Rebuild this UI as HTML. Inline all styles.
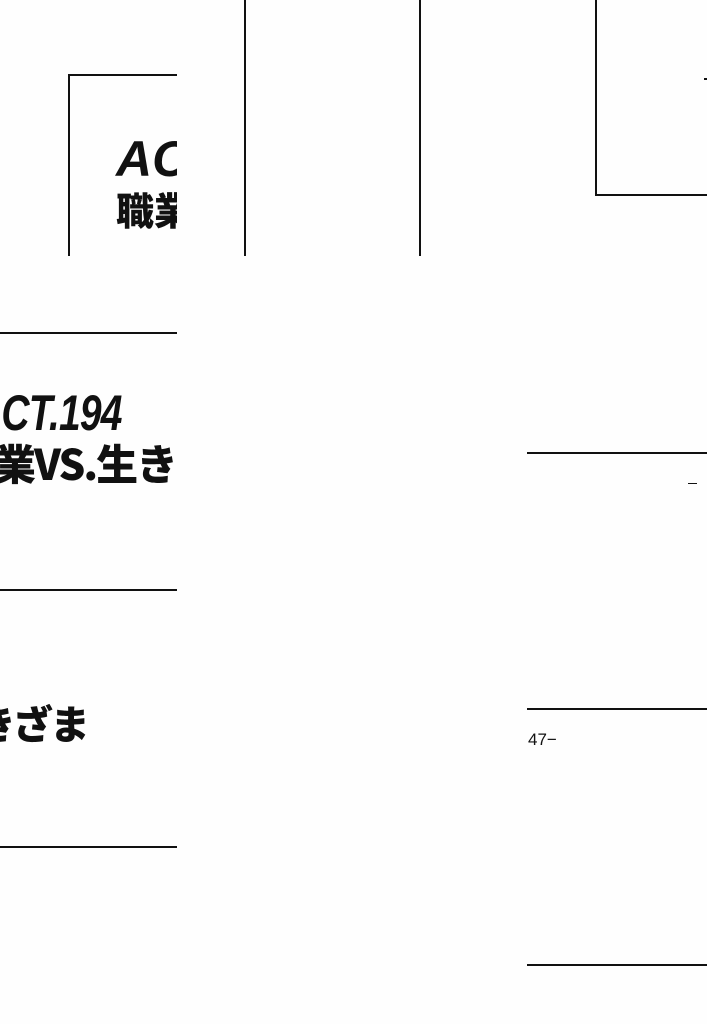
<!DOCTYPE html>
<html><head><meta charset="utf-8"><style>
body{margin:0;width:707px;height:1024px;background:#fefefe;position:relative;overflow:hidden;font-family:"Liberation Sans","Noto Sans CJK JP",sans-serif}
.a{position:absolute;background:#111}
.c{position:absolute;overflow:hidden}
.t{position:absolute;white-space:nowrap;font-weight:bold;color:#111;line-height:1}
</style></head><body>
<!-- row 1 -->
<div class="a" style="left:68px;top:74px;width:2px;height:182px"></div>
<div class="a" style="left:68px;top:74px;width:109px;height:2px"></div>
<div class="c" style="left:0;top:0;width:177px;height:256px">
 <div class="t" style="left:116px;top:134px;font-size:50px;font-style:italic;font-family:'Liberation Sans',sans-serif">ACT</div>
 <div class="t" style="left:116px;top:190px;font-size:38px;font-family:'Noto Sans CJK JP',sans-serif;font-weight:900">職業</div>
</div>
<div class="a" style="left:244px;top:0;width:2px;height:256px"></div>
<div class="a" style="left:419px;top:0;width:2px;height:256px"></div>
<div class="a" style="left:595px;top:0;width:2px;height:196px"></div>
<div class="a" style="left:595px;top:194px;width:112px;height:2px"></div>
<div class="a" style="left:704px;top:78px;width:3px;height:2px"></div>
<!-- row 2 -->
<div class="a" style="left:0;top:332px;width:177px;height:2px"></div>
<div class="c" style="left:0;top:256px;width:177px;height:256px">
 <div class="t" style="left:-26px;top:132px;font-size:50px;font-style:italic;font-family:'Liberation Sans',sans-serif;transform:scaleX(0.78);transform-origin:0 0;letter-spacing:-1px">ACT.194</div>
 <div class="t" style="left:-6px;top:186px;font-size:42px;font-family:'Noto Sans CJK JP',sans-serif;font-weight:900;letter-spacing:-2px">業VS.生き</div>
</div>
<div class="a" style="left:527px;top:452px;width:180px;height:2px"></div>
<div class="a" style="left:688px;top:483px;width:9px;height:1px"></div>
<!-- row 3 -->
<div class="a" style="left:0;top:589px;width:177px;height:2px"></div>
<div class="c" style="left:0;top:512px;width:177px;height:256px">
 <div class="t" style="left:-24px;top:190px;font-size:40px;font-family:'Noto Sans CJK JP',sans-serif;font-weight:900;letter-spacing:-3px">きざま</div>
</div>
<div class="a" style="left:527px;top:708px;width:180px;height:2px"></div>
<div class="t" style="left:528px;top:731px;font-size:17px;font-weight:normal">47−</div>
<!-- row 4 -->
<div class="a" style="left:0;top:846px;width:177px;height:2px"></div>
<div class="a" style="left:527px;top:964px;width:180px;height:2px"></div>
</body></html>
